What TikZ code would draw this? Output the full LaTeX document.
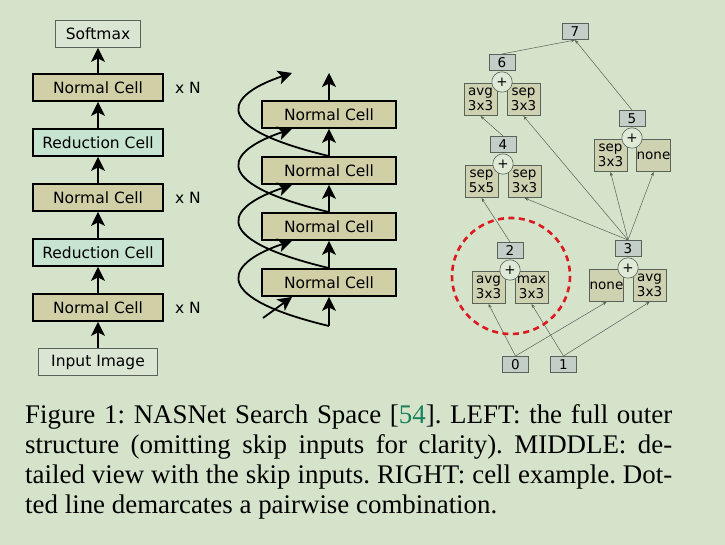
\documentclass[tikz,border=0pt]{standalone}
\usepackage{fontspec}
\setmainfont{DejaVu Sans}
\newfontfamily\capfont{Liberation Serif}
\usetikzlibrary{arrows.meta, calc, positioning}
\definecolor{bgcol}{rgb}{0.831, 0.890, 0.788}
\definecolor{normalfill}{rgb}{0.816, 0.812, 0.651}
\definecolor{reducfill}{rgb}{0.776, 0.894, 0.812}
\definecolor{iofill}{rgb}{0.855, 0.902, 0.827}
\definecolor{numfill}{rgb}{0.765, 0.808, 0.784}
\definecolor{opfill}{rgb}{0.808, 0.824, 0.694}
\definecolor{plusfill}{rgb}{0.871, 0.914, 0.847}
\definecolor{thinline}{rgb}{0.35, 0.39, 0.35}
\definecolor{pairred}{rgb}{0.86, 0.10, 0.12}
\definecolor{citegreen}{rgb}{0.10, 0.50, 0.36}

\begin{document}
\begin{tikzpicture}[x=1pt, y=-1pt, every node/.style={font=\fontsize{15.5}{18}\selectfont},
        cell/.style={draw, line width=1.8pt, minimum height=27pt, inner sep=0pt},
        normal/.style={cell, fill=normalfill, minimum width=130pt},
        reduc/.style={cell, fill=reducfill, minimum width=130pt},
        io/.style={draw=thinline, line width=0.8pt, fill=iofill, minimum height=27pt, inner sep=0pt},
        bigarrow/.style={line width=1.8pt, -{Stealth[length=14pt, width=14pt, inset=3.5pt]}},
        opbox/.style={draw=thinline, line width=0.6pt, fill=opfill, minimum width=33.4pt, minimum height=32.4pt,
            inner sep=0pt, align=center, font=\fontsize{13.5}{15}\selectfont},
        numbox/.style={draw=thinline, line width=0.6pt, fill=numfill, minimum width=26.4pt, minimum height=16.4pt,
            inner sep=0pt, font=\fontsize{13.5}{15}\selectfont},
        plus/.style={circle, draw=thinline, line width=0.6pt, fill=plusfill, minimum size=20.4pt, inner sep=0pt,
            font=\fontsize{13.5}{15}\selectfont},
        edge/.style={draw=thinline, line width=0.5pt, -{Stealth[length=4pt, width=3.2pt]}}]
    \fill[bgcol] (0,0) rectangle (725,545);
    \useasboundingbox (0,0) rectangle (725,545);

    \begin{scope}
        \node[io, minimum width=85pt] (softmax) at (98,34) {Softmax};
        \foreach \i/\y/\s/\t in {1/87.5/normal/Normal Cell, 2/142.5/reduc/Reduction Cell, 3/197.5/normal/Normal Cell,
                4/252.5/reduc/Reduction Cell, 5/307.5/normal/Normal Cell}{
            \node[\s] (L\i) at (98,\y) {\t};
        }
        \node[io, minimum width=119pt] (input) at (98,362) {Input Image};
        \foreach \i in {1, 3, 5}{
            \node[right=11pt of L\i, inner sep=0pt] (xn\i) {x N};
        }
        \foreach \a/\b in {input/L5, L5/L4, L4/L3, L3/L2, L2/L1, L1/softmax}{
            \draw[bigarrow] (\a.north) -- (\b.south);
        }
    \end{scope}

    \begin{scope}
        \foreach \i/\y in {1/114.5, 2/170.5, 3/226.5, 4/282.5}{
            \node[normal, minimum width=134pt] (M\i) at (329,\y) {Normal Cell};
            \coordinate (S\i) at ($(M\i.south)+(-37,0)$);
        }
        \coordinate (Min) at (329,326);
        \coordinate (Mout) at (329,73);
        \coordinate (Sout) at (292,73);
        \coordinate (Sin) at (263,318);
        \foreach \a/\b in {Min/M4.south, M4.north/M3.south, M3.north/M2.south, M2.north/M1.south, M1.north/Mout}{
            \draw[bigarrow] (\a) -- (\b);
        }
        \foreach \a/\b in {M2.north/Sout, M3.north/S1, M4.north/S2, Min/S3}{
            \draw[bigarrow] (\a) .. controls +(-129,-31) and +(-60,20) .. (\b);
        }
        \draw[bigarrow] (Sin) -- (S4);
    \end{scope}

    \begin{scope}
        \foreach \n/\cx/\cy/\l/\r in {6/502/82/{avg\\3x3}/{sep\\3x3}, 4/503/164/{sep\\5x5}/{sep\\3x3},
                5/632/138/{sep\\3x3}/none, 2/510/270/{avg\\3x3}/{max\\3x3}, 3/628/268/none/{avg\\3x3}}{
            \node[opbox] (a\n) at (\cx-21.5,\cy+17.5) {\l};
            \node[opbox] (b\n) at (\cx+21.5,\cy+17.5) {\r};
            \node[plus] (p\n) at (\cx,\cy) {+};
            \node[numbox] (n\n) at (\cx,\cy-19.5) {\n};
        }
        \node[numbox] (n7) at (575,31.5) {7};
        \node[numbox] (n0) at (515.5,364.5) {0};
        \node[numbox] (n1) at (563.5,364.5) {1};
        \foreach \s/\t in {n0/a2, n0/a3, n1/b2, n1/b3, n2/a4, n3/b4, n3/b6, n3/a5, n3/b5, n4/a6, n6/n7, n5/n7}{
            \draw[edge] (\s.north) -- (\t.south);
        }
        \draw[pairred, line width=2.6pt, dash pattern=on 6pt off 4.5pt] ($(p2)+(1,6)$) ellipse [x radius=59, y radius=58];
    \end{scope}

    \node[anchor=base west, text width=647pt, inner sep=0pt, align=justify,
        font=\capfont\fontsize{26.9}{30.3}\selectfont\frenchspacing] (caption) at (25,423)
        {Figure 1: NASNet Search Space [\textcolor{citegreen}{54}]. LEFT: the full outer\linebreak
        structure (omitting skip inputs for clarity). MIDDLE: de-\linebreak
        tailed view with the skip inputs. RIGHT: cell example. Dot-\linebreak
        ted line demarcates a pairwise combination.};
\end{tikzpicture}
\end{document}
